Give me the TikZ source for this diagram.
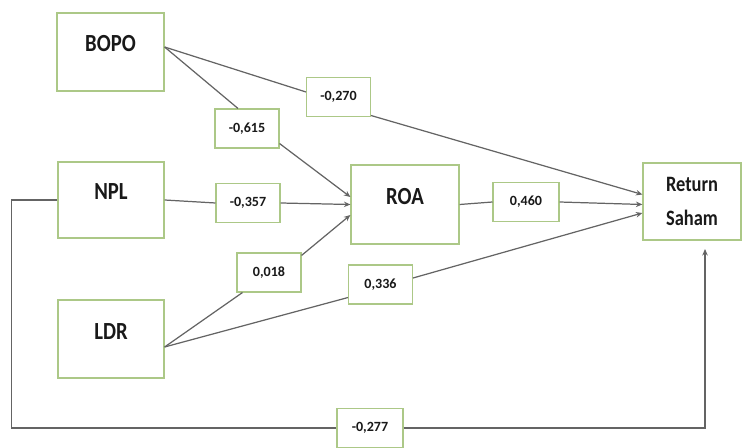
\documentclass[tikz,border=0pt]{standalone}
\definecolor{boxgreen}{RGB}{172, 200, 135}
\definecolor{linegray}{RGB}{100, 100, 100}
\definecolor{txtdark}{RGB}{25, 25, 25}
\usepackage{fontspec}
\setmainfont{Carlito}
\newfontfamily\narrowfont{Carlito}[FakeStretch=0.84]
\usepackage{tikz}
\usetikzlibrary{arrows.meta, positioning, calc}

\begin{document}
\begin{tikzpicture}[x=0.02cm, y=-0.02cm,
    var/.style={draw=boxgreen, line width=0.7pt, fill=white, text=txtdark,
      font=\fontsize{14}{16}\narrowfont\bfseries, inner sep=0pt,
      text height=7pt, text depth=7pt},
    coef/.style={draw=boxgreen, line width=0.6pt, fill=white, text=txtdark,
      font=\fontsize{8}{9}\selectfont\bfseries, inner sep=0pt,
      minimum width=1.28cm, minimum height=0.78cm},
    garis/.style={draw=linegray, line width=0.7pt},
    panah/.style={garis, -{Stealth[length=1.3mm, width=1.1mm]}}]
    \useasboundingbox (0,0) rectangle (742,448);
    % Variabel
    \node[var, minimum width=2.14cm, minimum height=1.56cm] (bopo) at (110.5,52) {BOPO};
    \node[var, minimum width=2.12cm, minimum height=1.52cm] (npl) at (111,200) {NPL};
    \node[var, minimum width=2.12cm, minimum height=1.56cm] (ldr) at (111,339) {LDR};
    \node[var, minimum width=2.16cm, minimum height=1.58cm] (roa) at (405,204.5) {ROA};
    \node[var, minimum width=1.96cm, minimum height=1.54cm, align=center,
      font=\fontsize{12.5}{19}\narrowfont\bfseries, text height=, text depth=]
      (ret) at (692,201.5) {Return\\Saham};
    % Koefisien jalur
    \node[coef] (bopoRet) at (338.5,97) {-0,270};
    \node[coef] (bopoRoa) at (247,128.5) {-0,615};
    \node[coef] (nplRoa) at (248,203) {-0,357};
    \node[coef] (ldrRoa) at (269,272.5) {0,018};
    \node[coef] (ldrRet) at (380.5,284.5) {0,336};
    \node[coef, minimum width=1.32cm] (roaRet) at (526,202) {0,460};
    \node[coef, minimum width=1.32cm] (nplRet) at (370,428) {-0,277};
    \coordinate (ujung) at (705,249);
    % BOPO
    \draw[garis] ([yshift=0.1cm]bopo.east) -- ([yshift=0.1cm]bopoRet.west);
    \draw[panah] ([yshift=0.03cm]bopoRet.south east) -- ([yshift=0.14cm]ret.west);
    \draw[garis] ([yshift=0.1cm]bopo.east) -- ([xshift=-0.18cm]bopoRoa.north);
    \draw[panah] ([yshift=0.1cm]bopoRoa.south east) -- ([yshift=0.15cm]roa.west);
    % NPL
    \draw[garis] (npl.east) -- (nplRoa.west);
    \draw[panah] (nplRoa.east) -- (roa.west);
    \draw[garis] (npl.west) -- ++(-46,0) |- (nplRet.west);
    \draw[panah] (nplRet.east) -| (ujung);
    % LDR
    \draw[garis] ([yshift=-0.16cm]ldr.east) -- ([xshift=0.12cm]ldrRoa.south west);
    \draw[panah] ([yshift=-0.06cm]ldrRoa.north east) -- ([yshift=-0.21cm]roa.west);
    \draw[garis] ([yshift=-0.16cm]ldr.east) -- ([yshift=0.14cm]ldrRet.south west);
    \draw[panah] ([yshift=0.13cm]ldrRet.east) -- ([yshift=-0.23cm]ret.west);
    % ROA
    \draw[garis] (roa.east) -- (roaRet.west);
    \draw[panah] (roaRet.east) -- ([yshift=-0.06cm]ret.west);
\end{tikzpicture}
\end{document}
